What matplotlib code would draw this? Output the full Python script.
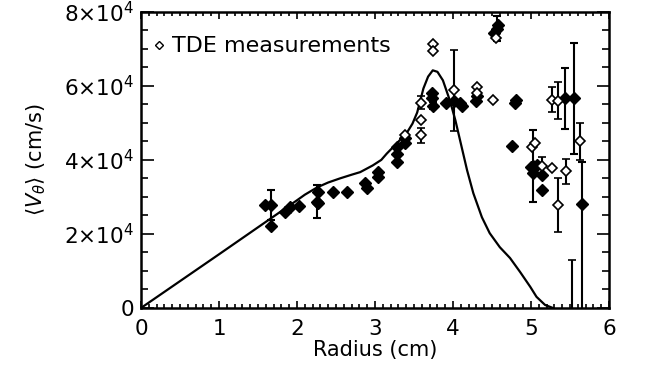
import matplotlib
matplotlib.use("Agg")
import matplotlib.pyplot as plt
import numpy as np
from matplotlib.ticker import MultipleLocator, FixedLocator
from matplotlib.lines import Line2D

# ---- data (velocities in units of 1e4 cm/s) ----
model_r = [0.0, 1.0, 2.0, 2.1, 2.26, 2.4, 2.55, 2.7, 2.81, 2.97, 3.08, 3.15, 3.28,
           3.41, 3.48, 3.54, 3.62, 3.68, 3.74, 3.80, 3.87, 3.96, 4.03, 4.09, 4.18,
           4.26, 4.37, 4.47, 4.60, 4.73, 4.86, 4.99, 5.07, 5.18, 5.28]
model_v = [0.0, 1.45, 2.91, 3.06, 3.26, 3.39, 3.50, 3.60, 3.67, 3.85, 4.00, 4.17, 4.45,
           4.74, 4.98, 5.28, 5.93, 6.25, 6.42, 6.38, 6.15, 5.60, 5.07, 4.53, 3.72,
           3.10, 2.45, 2.02, 1.64, 1.35, 0.97, 0.57, 0.30, 0.08, 0.0]

filled_r = [1.59, 1.67, 1.67, 1.85, 1.91, 2.02, 2.27, 2.27, 2.26, 2.46, 2.64, 2.87, 2.90,
            3.04, 3.04, 3.28, 3.28, 3.28, 3.38, 3.38, 3.73, 3.73, 3.74, 3.91, 4.01,
            4.09, 4.11, 4.30, 4.31, 4.53, 4.56, 4.58, 4.79, 4.81, 4.76, 5.00, 5.03,
            5.02, 5.07, 5.14, 5.14, 5.44, 5.55, 5.65]
filled_v = [2.78, 2.78, 2.21, 2.59, 2.72, 2.75, 3.13, 2.83, 2.87, 3.13, 3.13, 3.37, 3.23,
            3.67, 3.55, 3.94, 4.17, 4.35, 4.45, 4.58, 5.82, 5.66, 5.47, 5.55, 5.60,
            5.55, 5.47, 5.60, 5.74, 7.42, 7.55, 7.65, 5.55, 5.63, 4.37, 3.80, 3.83,
            3.64, 3.85, 3.58, 3.18, 5.66, 5.66, 2.80]
filled_err_lo = [0, 0.40, 0, 0, 0, 0, 0, 0, 0.45, 0, 0, 0, 0,
                 0, 0, 0, 0, 0, 0, 0, 0, 0, 0.10, 0, 0,
                 0, 0, 0, 0, 0, 0.35, 0, 0, 0, 0, 0, 0.97,
                 0, 0, 0, 0, 0.83, 1.50, 3.50]
filled_err_hi = [0, 0.40, 0, 0, 0, 0, 0, 0, 0.45, 0, 0, 0, 0,
                 0, 0, 0, 0, 0, 0, 0, 0, 0, 0.10, 0, 0,
                 0, 0, 0, 0, 0, 0.35, 0, 0, 0, 0, 0, 0.97,
                 0, 0, 0, 0, 0.83, 1.50, 1.15]

open_r = [3.39, 3.59, 3.59, 3.59, 3.74, 3.74, 4.01, 4.31, 4.31, 4.51, 4.55, 5.01, 5.05,
          5.14, 5.27, 5.35, 5.45, 5.27, 5.35, 5.63, 5.53]
open_v = [4.66, 5.07, 4.66, 5.55, 7.14, 6.95, 5.88, 5.96, 5.82, 5.63, 7.30, 4.34, 4.45,
          3.83, 3.77, 2.78, 3.69, 5.63, 5.60, 4.50, -0.30]
open_err = [0, 0, 0.19, 0.17, 0, 0, 1.10, 0, 0, 0, 0, 0, 0,
            0.26, 0, 0.72, 0.34, 0.33, 0.50, 0.50, 1.60]

y_ticks = [0, 2, 4, 6, 8]
y_tick_labels = ['0', r'$2{\times}10^{4}$', r'$4{\times}10^{4}$', r'$6{\times}10^{4}$', r'$8{\times}10^{4}$']
x_ticks = [0, 1, 2, 3, 4, 5, 6]

plt.rcParams['font.family'] = ['DejaVu Sans']
plt.rcParams['mathtext.fontset'] = 'dejavusans'

fig = plt.figure(figsize=(6.5, 3.83), dpi=100)
ax = fig.add_axes([0.217, 0.196, 0.720, 0.773])

ax.plot(model_r, model_v, color='black', lw=1.6, zorder=2)

ax.errorbar(filled_r, filled_v, yerr=[filled_err_lo, filled_err_hi], fmt='D',
            color='black', ms=6.5, mfc='black', mec='black', elinewidth=1.5,
            capsize=3, capthick=1.5, zorder=3)
ax.errorbar(open_r, open_v, yerr=open_err, fmt='D', color='black', ms=5.5,
            mfc='white', mec='black', mew=1.2, elinewidth=1.5, capsize=3,
            capthick=1.5, zorder=4)

ax.set_xlim(0, 6)
ax.set_ylim(0, 8)
ax.xaxis.set_major_locator(FixedLocator(x_ticks))
ax.xaxis.set_minor_locator(MultipleLocator(0.1))
ax.yaxis.set_major_locator(FixedLocator(y_ticks))
ax.yaxis.set_minor_locator(MultipleLocator(0.5))
ax.set_yticklabels(y_tick_labels)
ax.tick_params(axis='both', which='both', direction='in', top=True, right=True,
               labelsize=15.5, width=1.2)
ax.tick_params(axis='x', which='major', length=5, pad=8)
ax.tick_params(axis='x', which='minor', length=3)
ax.tick_params(axis='y', which='major', length=9, pad=5)
ax.tick_params(axis='y', which='minor', length=5)
for s in ax.spines.values():
    s.set_linewidth(1.8)

ax.set_xlabel('Radius (cm)', fontsize=15, labelpad=1)
ax.set_ylabel(r'$\langle V_{\theta}\rangle$ (cm/s)', fontsize=15, labelpad=12)

handle = Line2D([], [], ls='none', marker='D', ms=4, mfc='white', mec='black', mew=1.0)
ax.legend([handle], ['TDE measurements'], loc='upper left', bbox_to_anchor=(-0.025, 1.0),
          frameon=False, fontsize=16, handlelength=0.5, handletextpad=0.3,
          borderaxespad=0.6, borderpad=0.5)

fig.savefig('out.png', dpi=100)
